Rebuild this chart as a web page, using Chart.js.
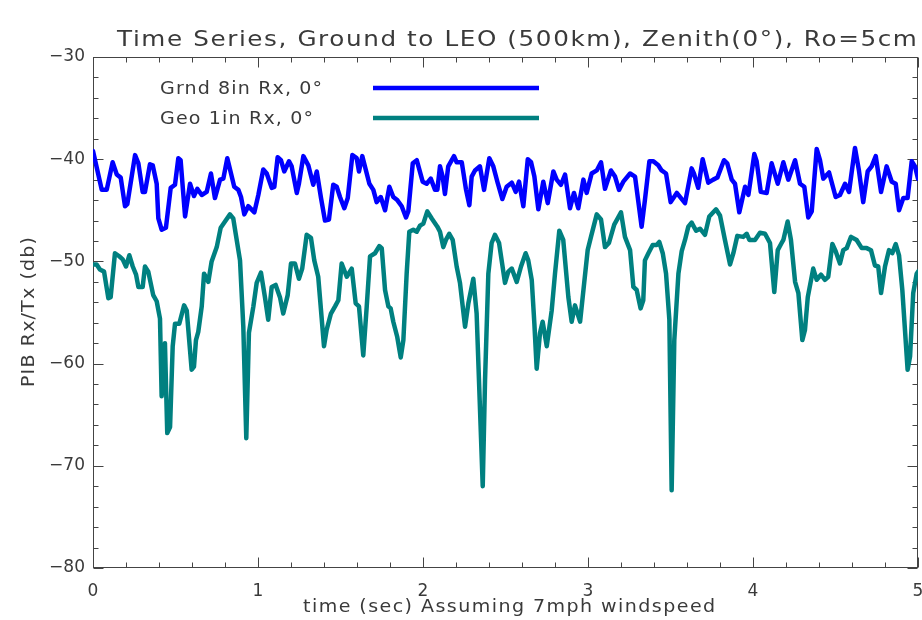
<!DOCTYPE html>
<html>
<head>
<meta charset="utf-8">
<title>Time Series, Ground to LEO</title>
<script src="https://cdn.jsdelivr.net/npm/chart.js@4.4.1/dist/chart.umd.min.js"></script>
<style>
  html, body { margin: 0; padding: 0; background: #ffffff; }
  #wrap { width: 922px; height: 620px; }
</style>
</head>
<body>
<div id="wrap"><canvas id="pib" width="922" height="620"></canvas></div>
<script>
// PIB time series, seconds vs dB
const chartTitle = 'Time Series, Ground to LEO (500km), Zenith(0\u00B0), Ro=5cm';
const xAxisTitle = 'time (sec) Assuming 7mph windspeed';
const yAxisTitle = 'PIB Rx/Tx (db)';
const seriesLabels = ['Grnd 8in Rx, 0\u00B0', 'Geo 1in Rx, 0\u00B0'];
const seriesColors = ['#0000ff', '#008080'];

const xTickValues = [0, 1, 2, 3, 4, 5];
const yTickValues = [-80, -70, -60, -50, -40, -30];

// Ground 8in receiver
const grndTime = [
  0.000, 0.053, 0.083, 0.119, 0.144, 0.168, 0.194, 0.208, 0.255, 0.275,
  0.301, 0.315, 0.345, 0.362, 0.386, 0.396, 0.416, 0.442, 0.471, 0.497,
  0.517, 0.531, 0.558, 0.588, 0.612, 0.632, 0.659, 0.689, 0.715, 0.739,
  0.770, 0.790, 0.814, 0.856, 0.881, 0.897, 0.917, 0.941, 0.978, 1.002,
  1.032, 1.053, 1.083, 1.099, 1.119, 1.139, 1.159, 1.188, 1.204, 1.235,
  1.248, 1.275, 1.305, 1.335, 1.356, 1.382, 1.406, 1.430, 1.456, 1.477,
  1.497, 1.523, 1.544, 1.572, 1.598, 1.612, 1.632, 1.675, 1.699, 1.719,
  1.744, 1.770, 1.796, 1.820, 1.844, 1.871, 1.897, 1.911, 1.938, 1.962,
  1.998, 2.022, 2.047, 2.073, 2.087, 2.103, 2.119, 2.133, 2.153, 2.188,
  2.204, 2.235, 2.261, 2.281, 2.295, 2.315, 2.345, 2.370, 2.402, 2.426,
  2.454, 2.481, 2.507, 2.538, 2.562, 2.582, 2.608, 2.635, 2.655, 2.675,
  2.699, 2.729, 2.756, 2.790, 2.810, 2.836, 2.861, 2.891, 2.915, 2.941,
  2.972, 2.992, 3.022, 3.053, 3.079, 3.103, 3.139, 3.164, 3.188, 3.214,
  3.255, 3.285, 3.325, 3.345, 3.372, 3.396, 3.426, 3.446, 3.473, 3.501,
  3.538, 3.588, 3.628, 3.642, 3.668, 3.695, 3.729, 3.759, 3.784, 3.824,
  3.844, 3.871, 3.891, 3.917, 3.952, 3.972, 4.008, 4.022, 4.047, 4.083,
  4.113, 4.150, 4.184, 4.214, 4.255, 4.285, 4.311, 4.335, 4.356, 4.386,
  4.406, 4.426, 4.461, 4.501, 4.527, 4.558, 4.582, 4.618, 4.642, 4.668,
  4.695, 4.719, 4.744, 4.776, 4.810, 4.841, 4.865, 4.885, 4.911, 4.937,
  4.962, 4.982, 5.000
];
const grndPib = [
  -39.2, -43.0, -43.0, -40.3, -41.5, -41.8, -44.6, -44.4, -39.6, -40.4,
  -43.2, -43.2, -40.5, -40.6, -42.4, -45.8, -46.9, -46.7, -42.8, -42.5,
  -39.9, -40.1, -45.6, -42.4, -43.6, -42.9, -43.5, -43.2, -41.4, -43.8,
  -42.0, -41.9, -39.9, -42.7, -43.0, -43.7, -45.4, -44.6, -45.2, -43.5,
  -41.0, -41.4, -42.8, -42.7, -39.8, -40.1, -41.2, -40.2, -40.7, -43.3,
  -42.4, -39.7, -40.6, -42.5, -41.2, -43.8, -46.0, -45.9, -42.5, -42.7,
  -43.7, -44.8, -43.8, -39.6, -39.9, -41.2, -39.7, -42.4, -43.0, -44.2,
  -43.7, -45.0, -42.7, -43.7, -44.0, -44.6, -45.7, -45.1, -40.4, -40.1,
  -42.2, -42.4, -41.9, -43.0, -43.0, -40.7, -41.7, -43.4, -40.7, -39.7,
  -40.3, -40.3, -43.0, -44.5, -41.7, -41.1, -40.7, -43.0, -39.9, -40.7,
  -42.4, -43.9, -42.7, -42.3, -43.2, -42.2, -44.6, -40.0, -40.3, -41.7,
  -44.9, -42.2, -44.3, -41.2, -42.0, -42.5, -41.5, -44.8, -43.3, -44.8,
  -42.0, -43.3, -41.4, -41.1, -40.3, -42.9, -41.1, -41.7, -43.0, -42.2,
  -41.4, -41.7, -46.6, -44.0, -40.2, -40.2, -40.6, -41.1, -41.4, -44.2,
  -43.3, -44.3, -40.9, -41.4, -42.8, -40.0, -42.3, -42.0, -41.8, -40.1,
  -40.4, -42.0, -42.4, -45.2, -42.7, -43.5, -39.5, -40.2, -43.2, -43.3,
  -40.4, -42.4, -40.3, -42.0, -40.1, -42.4, -42.7, -45.7, -45.1, -39.0,
  -40.1, -41.9, -41.3, -43.7, -43.5, -42.4, -43.2, -38.9, -41.1, -44.2,
  -41.2, -40.7, -39.7, -43.2, -40.7, -42.2, -42.4, -45.0, -43.8, -43.8,
  -40.2, -40.7, -41.9
];

// Geo 1in receiver
const geoTime = [
  0.000, 0.022, 0.042, 0.067, 0.093, 0.107, 0.133, 0.159, 0.180, 0.200,
  0.220, 0.241, 0.261, 0.275, 0.301, 0.315, 0.335, 0.365, 0.386, 0.406,
  0.416, 0.436, 0.450, 0.467, 0.483, 0.497, 0.523, 0.552, 0.568, 0.598,
  0.612, 0.624, 0.638, 0.659, 0.673, 0.699, 0.719, 0.750, 0.774, 0.800,
  0.830, 0.850, 0.865, 0.891, 0.911, 0.929, 0.945, 0.972, 0.992, 1.018,
  1.042, 1.062, 1.083, 1.107, 1.133, 1.153, 1.180, 1.200, 1.224, 1.248,
  1.268, 1.295, 1.321, 1.341, 1.365, 1.400, 1.416, 1.442, 1.467, 1.487,
  1.507, 1.538, 1.568, 1.592, 1.612, 1.638, 1.659, 1.679, 1.709, 1.735,
  1.750, 1.770, 1.790, 1.804, 1.820, 1.844, 1.865, 1.881, 1.901, 1.917,
  1.941, 1.962, 1.982, 2.002, 2.026, 2.053, 2.087, 2.103, 2.123, 2.139,
  2.159, 2.180, 2.204, 2.224, 2.255, 2.275, 2.305, 2.325, 2.362, 2.376,
  2.396, 2.416, 2.436, 2.461, 2.497, 2.517, 2.538, 2.568, 2.594, 2.622,
  2.638, 2.659, 2.675, 2.689, 2.709, 2.725, 2.750, 2.780, 2.800, 2.826,
  2.850, 2.881, 2.901, 2.921, 2.952, 2.977, 2.998, 3.018, 3.053, 3.079,
  3.103, 3.127, 3.159, 3.200, 3.224, 3.255, 3.275, 3.295, 3.319, 3.335,
  3.345, 3.366, 3.392, 3.416, 3.432, 3.453, 3.473, 3.493, 3.507, 3.523,
  3.548, 3.568, 3.588, 3.608, 3.628, 3.655, 3.679, 3.709, 3.735, 3.776,
  3.800, 3.830, 3.861, 3.881, 3.905, 3.941, 3.962, 3.978, 4.012, 4.042,
  4.073, 4.103, 4.129, 4.150, 4.170, 4.184, 4.210, 4.230, 4.255, 4.275,
  4.299, 4.315, 4.332, 4.365, 4.386, 4.412, 4.436, 4.456, 4.481, 4.501,
  4.527, 4.547, 4.568, 4.594, 4.628, 4.659, 4.689, 4.715, 4.739, 4.759,
  4.776, 4.800, 4.824, 4.844, 4.865, 4.885, 4.905, 4.937, 4.952, 4.971,
  4.992, 5.000
];
const geoPib = [
  -50.3, -50.3, -50.8, -51.0, -53.6, -53.5, -49.2, -49.5, -49.8, -50.5,
  -49.4, -50.5, -51.3, -52.5, -52.5, -50.5, -51.0, -53.3, -53.9, -55.6,
  -63.2, -58.0, -66.8, -66.2, -58.3, -56.1, -56.1, -54.3, -54.8, -60.6,
  -60.3, -57.7, -56.9, -54.4, -51.2, -52.0, -50.0, -48.6, -46.7, -46.1,
  -45.4, -45.8, -47.3, -49.9, -56.4, -67.3, -57.0, -54.4, -52.1, -51.1,
  -53.5, -55.7, -52.5, -52.3, -53.5, -55.1, -53.3, -50.2, -50.2, -51.7,
  -50.7, -47.4, -47.7, -49.9, -51.5, -58.3, -56.7, -55.1, -54.4, -53.8,
  -50.2, -51.5, -50.7, -54.1, -54.4, -59.2, -54.4, -49.5, -49.2, -48.5,
  -48.7, -52.8, -54.4, -54.6, -55.9, -57.4, -59.4, -57.7, -51.2, -47.1,
  -46.9, -47.1, -46.5, -46.3, -45.1, -45.8, -46.6, -47.1, -48.6, -47.9,
  -47.3, -47.9, -50.5, -52.1, -56.4, -54.1, -51.7, -55.1, -72.0, -61.6,
  -51.2, -48.2, -47.4, -48.2, -52.1, -51.0, -50.7, -52.0, -50.5, -49.2,
  -49.9, -51.8, -56.1, -60.5, -57.0, -55.9, -58.3, -54.8, -51.2, -47.0,
  -47.9, -53.5, -55.9, -54.3, -55.9, -52.1, -48.9, -47.6, -45.4, -45.9,
  -48.6, -48.2, -46.4, -45.2, -47.6, -48.9, -52.5, -52.8, -54.6, -53.8,
  -49.9, -49.2, -48.4, -48.4, -48.1, -49.2, -51.2, -55.7, -72.4, -57.7,
  -51.2, -49.0, -47.9, -46.6, -46.2, -47.0, -46.8, -47.4, -45.6, -44.9,
  -45.5, -47.9, -50.3, -49.2, -47.5, -47.6, -47.3, -47.9, -47.9, -47.2,
  -47.3, -48.2, -53.0, -48.9, -48.3, -47.9, -46.1, -47.9, -52.0, -53.1,
  -57.7, -56.7, -53.5, -50.7, -51.8, -51.3, -51.8, -51.5, -48.3, -49.0,
  -50.2, -48.9, -48.7, -47.6, -47.9, -48.7, -48.7, -48.9, -50.4, -50.5,
  -53.1, -50.5, -48.9, -49.2, -48.3, -49.4, -52.8, -60.6, -59.3, -53.1,
  -51.2, -51.0
];

const toPoints = (xs, ys) => xs.map((x, i) => ({ x: x, y: ys[i] }));

const FONT = '"DejaVu Sans", "Liberation Sans", sans-serif';
const TEXT_COLOR = '#3a3a3a';
const AXIS_COLOR = '#444444';

// Draws text left-aligned at x, glyphs widened a little and spread so
// that the whole string spans `width` pixels.
function spreadText(ctx, text, x, y, width, size, stretch) {
  const sx = stretch || 1.12;
  ctx.save();
  ctx.translate(x, y);
  ctx.scale(sx, 1);
  ctx.font = size + 'px ' + FONT;
  ctx.letterSpacing = '0px';
  const natural = ctx.measureText(text).width;
  const gaps = Math.max(1, [...text].length - 1);
  ctx.letterSpacing = ((width / sx - natural) / gaps).toFixed(2) + 'px';
  ctx.textAlign = 'left';
  ctx.textBaseline = 'alphabetic';
  ctx.fillText(text, 0, 0);
  ctx.restore();
}

// Box frame with inward ticks on all four sides, plus titles and key
const framePlugin = {
  id: 'frameTicks',
  beforeDatasetsDraw(chart) {
    const { ctx, chartArea: a, scales } = chart;
    const xs = scales.x, ys = scales.y;
    const L = Math.round(a.left) + 0.5, R = Math.round(a.right) - 0.5;
    const T = Math.round(a.top) + 0.5, B = Math.round(a.bottom) - 0.5;
    ctx.save();
    ctx.strokeStyle = AXIS_COLOR;
    ctx.lineWidth = 1;
    ctx.strokeRect(L, T, R - L, B - T);
    ctx.beginPath();
    for (let k = 0; k <= 25; k++) {
      const v = k * 0.2;
      const px = Math.round(xs.getPixelForValue(v)) + 0.5;
      const len = (k % 5 === 0) ? 10 : 5;
      ctx.moveTo(px, B); ctx.lineTo(px, B - len);
      ctx.moveTo(px, T); ctx.lineTo(px, T + len);
    }
    for (let k = 0; k <= 25; k++) {
      const v = -80 + k * 2;
      const py = Math.round(ys.getPixelForValue(v)) + 0.5;
      const len = (k % 5 === 0) ? 10 : 5;
      ctx.moveTo(L, py); ctx.lineTo(L + len, py);
      ctx.moveTo(R, py); ctx.lineTo(R - len, py);
    }
    ctx.stroke();
    ctx.restore();
  },
  afterDraw(chart) {
    const { ctx, data } = chart;
    ctx.save();
    ctx.fillStyle = TEXT_COLOR;
    spreadText(ctx, chartTitle, 117, 46, 800, 22);
    const rows = [{ y: 88, base: 94, w: 162 }, { y: 118, base: 123.5, w: 153 }];
    data.datasets.forEach((ds, i) => {
      ctx.fillStyle = TEXT_COLOR;
      spreadText(ctx, ds.label, 160, rows[i].base, rows[i].w, 17);
      ctx.strokeStyle = ds.borderColor;
      ctx.lineWidth = 4.5;
      ctx.beginPath();
      ctx.moveTo(373, rows[i].y);
      ctx.lineTo(539, rows[i].y);
      ctx.stroke();
    });
    ctx.fillStyle = TEXT_COLOR;
    spreadText(ctx, xAxisTitle, 303, 611.5, 412, 17);
    ctx.translate(33.5, 312);
    ctx.rotate(-Math.PI / 2);
    const yw = 150;
    spreadText(ctx, yAxisTitle, -yw / 2, 0, yw, 17);
    ctx.restore();
  }
};

new Chart(document.getElementById('pib'), {
  type: 'line',
  data: {
    datasets: [
      {
        label: seriesLabels[0],
        data: toPoints(grndTime, grndPib),
        borderColor: seriesColors[0],
        borderWidth: 4.5,
        pointRadius: 0,
        tension: 0,
        fill: false,
        borderJoinStyle: 'round',
        borderCapStyle: 'round'
      },
      {
        label: seriesLabels[1],
        data: toPoints(geoTime, geoPib),
        borderColor: seriesColors[1],
        borderWidth: 4.5,
        pointRadius: 0,
        tension: 0,
        fill: false,
        borderJoinStyle: 'round',
        borderCapStyle: 'round'
      }
    ]
  },
  options: {
    responsive: false,
    animation: false,
    events: [],
    layout: { padding: { top: 57, right: 0, bottom: 0, left: 0 } },
    plugins: {
      legend: { display: false },
      title: { display: false },
      tooltip: { enabled: false }
    },
    scales: {
      x: {
        type: 'linear',
        min: 0,
        max: 5,
        afterBuildTicks(scale) { scale.ticks = xTickValues.map(v => ({ value: v })); },
        afterFit(scale) { scale.height = 52; scale.paddingRight = 4; },
        grid: { display: false, drawTicks: false },
        border: { display: false },
        ticks: {
          padding: 13,
          maxRotation: 0,
          color: TEXT_COLOR,
          font: { family: FONT, size: 17 },
          callback: v => String(v)
        }
      },
      y: {
        type: 'linear',
        min: -80,
        max: -30,
        afterBuildTicks(scale) { scale.ticks = yTickValues.map(v => ({ value: v })); },
        afterFit(scale) { scale.width = 93; },
        grid: { display: false, drawTicks: false },
        border: { display: false },
        ticks: {
          padding: 8,
          color: TEXT_COLOR,
          font: { family: FONT, size: 17 },
          callback: v => (v < 0 ? '\u2212' + Math.abs(v) : String(v))
        }
      }
    }
  },
  plugins: [framePlugin]
});
</script>
</body>
</html>
